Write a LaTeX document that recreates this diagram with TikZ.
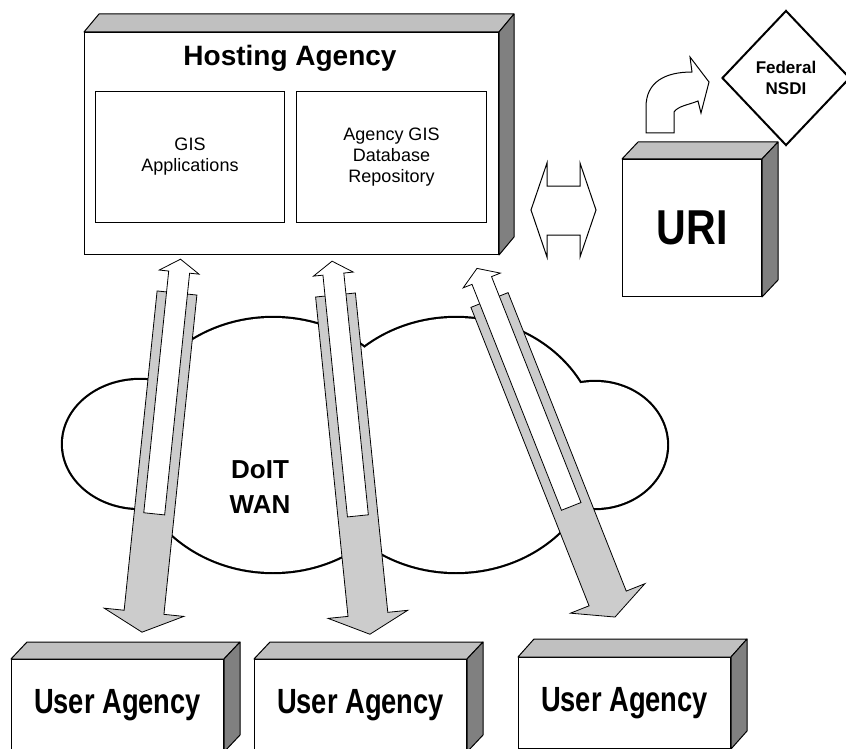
\documentclass[tikz,border=0pt]{standalone}
\usepackage{fontspec}
\setmainfont{Liberation Sans}
\newfontfamily\condensed[FakeStretch=0.78]{Liberation Sans}
\newfontfamily\semicondensed[FakeStretch=0.84]{Liberation Sans}
\usetikzlibrary{calc,shapes.geometric}

\definecolor{topgray}{RGB}{192,192,192}
\definecolor{sidegray}{RGB}{128,128,128}
\definecolor{pipegray}{RGB}{204,204,204}

% a box seen slightly from above and to the right: front node plus top and side faces
\newcommand\boxfaces[3]{%
  \filldraw[topface] (#1.north west) -- ++(#2,#3) -- ($(#1.north east)+(#2,#3)$) -- (#1.north east) -- cycle;
  \filldraw[sideface] (#1.north east) -- ++(#2,#3) -- ($(#1.south east)+(#2,#3)$) -- (#1.south east) -- cycle;
}

% wide grey down arrow with a narrow white up arrow laid along it
\newcommand\pipearrow[2]{%
  \pgfmathanglebetweenpoints{\pgfpointanchor{#1}{center}}{\pgfpointanchor{#2}{center}}%
  \let\pipeang\pgfmathresult
  \begin{scope}[shift={(#1)}, rotate=\pipeang]
    \filldraw[downpipe] (0,-20) -- (321,-20) -- (321,-40) -- (341,0) -- (321,40) -- (321,20) -- (0,20) -- cycle;
    \filldraw[uppipe] (-34,0) -- (-21,20) -- (-21,10.5) -- (222,10.5) -- (222,-10.5) -- (-21,-10.5) -- (-21,-20) -- cycle;
  \end{scope}}

\begin{document}
\begin{tikzpicture}[x=1pt, y=-1pt,
  face/.style={draw=black, line width=1pt, fill=white, inner sep=0pt, anchor=north west},
  topface/.style={draw=black, line width=1pt, fill=topgray, line join=round},
  sideface/.style={draw=black, line width=1pt, fill=sidegray, line join=round},
  inner/.style={draw=black, line width=1pt, fill=white, inner sep=0pt, anchor=north west, align=center, font=\fontsize{18}{21}\selectfont},
  useragency/.style={face, minimum width=212pt, font=\condensed\bfseries\fontsize{35}{40}\selectfont},
  downpipe/.style={draw=black, line width=0.8pt, fill=pipegray, line join=miter},
  uppipe/.style={draw=black, line width=0.8pt, fill=white, line join=miter},
  blockarrow/.style={draw=black, line width=1pt, fill=white, line join=miter},
  cloudrim/.style={draw=black, line width=4.4pt},
  cloudfill/.style={fill=white},
]
\useasboundingbox (0,0) rectangle (846,749);

% ---- hosting agency ----
\node[face, minimum width=414pt, minimum height=222pt] (host) at (84,32) {};
\boxfaces{host}{15}{-18}
\node[font=\bfseries\fontsize{28}{32}\selectfont] (hosttitle) at (290,58) {Hosting Agency};
\node[inner, minimum width=189pt, minimum height=131pt] (apps) at (95,91) {GIS\\Applications};
\node[inner, minimum width=190pt, minimum height=131pt] (repo) at (296,91) {Agency GIS\\Database\\Repository};

% ---- URI and the federal clearinghouse ----
\node[face, minimum width=139pt, minimum height=137pt, font=\semicondensed\bfseries\fontsize{49}{54}\selectfont] (uri) at (622,159) {URI};
\boxfaces{uri}{16}{-17}
\node[diamond, draw=black, line width=2pt, fill=white, inner sep=0pt,
      minimum width=128pt, minimum height=135pt, align=center,
      font=\bfseries\fontsize{17}{21}\selectfont] (nsdi) at (786,78) {Federal\\NSDI};

% bent arrow from URI up to NSDI
\filldraw[blockarrow] (646,133) -- (646,107) .. controls (646,82) and (665,72) .. (692,72)
  -- (690,57) -- (709,82) -- (701,113) -- (698,101)
  .. controls (688,105) and (678,106) .. (674,112) -- (674,133) -- cycle;

% two-headed arrow between hosting agency and URI
\filldraw[blockarrow] (531,210) -- (547,163) -- (547,186) -- (580,186) -- (580,163)
  -- (596,210) -- (580,257) -- (580,235) -- (547,235) -- (547,257) -- cycle;

% ---- user agencies ----
\node[useragency, minimum height=92pt] (user1) at (11,659) {User Agency};
\boxfaces{user1}{16}{-17}
\node[useragency, minimum height=92pt] (user2) at (254,659) {User Agency};
\boxfaces{user2}{16}{-17}
\node[useragency, minimum height=91pt] (user3) at (518,657) {User Agency};
\boxfaces{user3}{16}{-18}

% ---- DoIT WAN cloud: union of four ellipses ----
\path[cloudrim] (140,444) ellipse [x radius=77pt, y radius=64pt];
\path[cloudrim] (273,445) ellipse [x radius=142pt, y radius=127pt];
\path[cloudrim] (456,445) ellipse [x radius=142pt, y radius=127pt];
\path[cloudrim] (595,445) ellipse [x radius=72pt, y radius=63pt];
\path[cloudfill] (140,444) ellipse [x radius=77pt, y radius=64pt];
\path[cloudfill] (273,445) ellipse [x radius=142pt, y radius=127pt];
\path[cloudfill] (456,445) ellipse [x radius=142pt, y radius=127pt];
\path[cloudfill] (595,445) ellipse [x radius=72pt, y radius=63pt];
\node[align=center, font=\bfseries\fontsize{26}{35}\selectfont] (wan) at (260,487) {DoIT\\WAN};

% ---- links through the WAN ----
\coordinate (p1top) at (177,293);   \coordinate (p1end) at (142,632);
\coordinate (p2top) at (335.5,295); \coordinate (p2end) at (370,635);
\coordinate (p3top) at (489.5,300); \coordinate (p3end) at (615,617);
\pipearrow{p1top}{p1end}
\pipearrow{p2top}{p2end}
\pipearrow{p3top}{p3end}
\end{tikzpicture}
\end{document}
